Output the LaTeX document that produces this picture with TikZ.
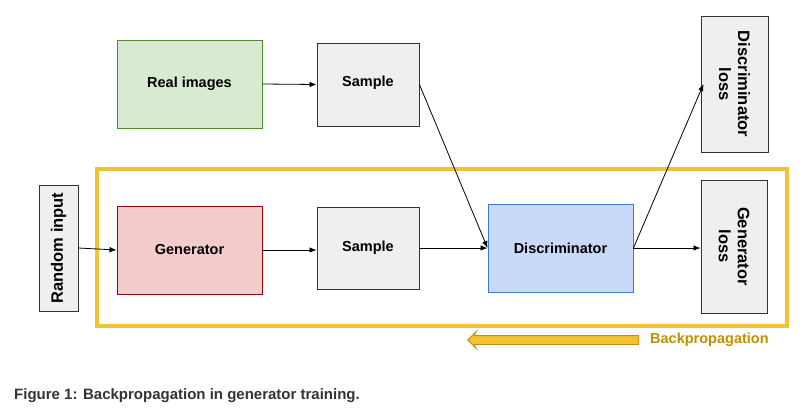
\documentclass[tikz,border=0pt]{standalone}
\usepackage{fontspec}
\setmainfont{Liberation Sans}
\usetikzlibrary{positioning, arrows.meta, shapes.arrows}

\definecolor{realfill}{HTML}{D9EAD3}
\definecolor{realline}{HTML}{4E8A2E}
\definecolor{genfill}{HTML}{F4CCCC}
\definecolor{genline}{HTML}{990000}
\definecolor{discfill}{HTML}{C9DAF8}
\definecolor{discline}{HTML}{3D7BC6}
\definecolor{greyfill}{HTML}{EFEFEF}
\definecolor{greyline}{HTML}{333333}
\definecolor{frameyellow}{HTML}{F1C232}
\definecolor{darkyellow}{HTML}{BF9000}
\definecolor{captiongrey}{HTML}{333333}

\begin{document}
\begin{tikzpicture}[x=1pt, y=-1pt,
		block/.style={draw, line width=0.9pt, font=\fontsize{14.5}{17}\selectfont\bfseries, align=center, inner sep=0pt},
		greybox/.style={block, draw=greyline, fill=greyfill},
		upright/.style={font=\fontsize{16.5}{19}\selectfont\bfseries},
		flow/.style={-{Latex[length=7pt,width=5.5pt]}, line width=0.8pt, black}]
	\useasboundingbox (0,0) rectangle (806,413);
	% frame round the generator part
	\draw[frameyellow, line width=3.5pt] (97,169) rectangle (787,326);
	
	\node[block, draw=realline, fill=realfill, minimum width=145pt, minimum height=88pt] (real) at (189.5,84) {Real images};
	\node[greybox, minimum width=102pt, minimum height=83pt, text depth=7pt] (sample1) at (368,84.5) {Sample};
	\node[greybox, upright, minimum width=136pt, minimum height=67pt, rotate=-90] (dloss) at (734.5,84) {Discriminator\\loss};
	
	\node[greybox, upright, minimum width=126pt, minimum height=39pt, rotate=90] (rand) at (58.5,248) {Random input};
	\node[block, draw=genline, fill=genfill, minimum width=145pt, minimum height=88pt] (gen) at (189.5,250) {Generator};
	\node[greybox, minimum width=102pt, minimum height=82pt] (sample2) at (368,248) {Sample};
	\node[block, draw=discline, fill=discfill, minimum width=145pt, minimum height=88pt] (disc) at (560.5,248) {Discriminator};
	\node[greybox, upright, minimum width=133pt, minimum height=66pt, rotate=-90] (gloss) at (734,246.5) {Generator\\loss};
	
	\path
	(rand.south) edge[flow] (gen.west)
	(real.east) edge[flow] (sample1.west)
	(gen.east) edge[flow] ([yshift=-2pt]sample2.west)
	(sample1.east) edge[flow] (disc.west)
	(sample2.east) edge[flow] (disc.west)
	(disc.east) edge[flow] (disc.east -| gloss.south)
	(disc.east) edge[flow] ([xshift=3pt]dloss.south);
	
	% backpropagation arrow
	\node[single arrow, shape border rotate=180, draw=darkyellow, fill=frameyellow, line width=0.8pt,
		inner xsep=0pt, inner ysep=4pt, minimum height=171pt, single arrow head extend=4pt,
		single arrow head indent=2pt] (back) at (555.5,340) {};
	\node[anchor=west, text=darkyellow, font=\fontsize{14.5}{17}\selectfont\bfseries, inner sep=0pt] (backtext) at (650,340) {Backpropagation};
	
	\node[anchor=west, text=captiongrey, font=\fontsize{15}{18}\selectfont\bfseries, inner sep=0pt] (caption) at (14,396) {Figure 1: Backpropagation in generator training.};
\end{tikzpicture}
\end{document}
